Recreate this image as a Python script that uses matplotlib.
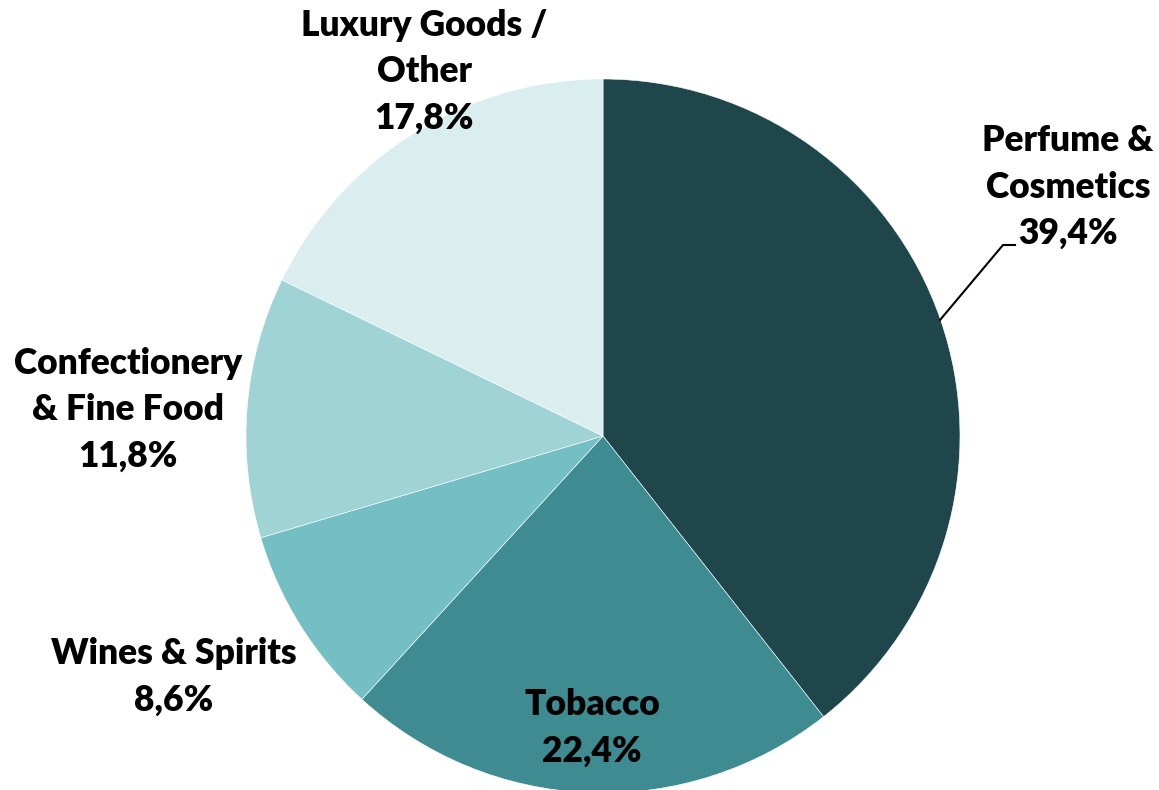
import matplotlib
matplotlib.use("Agg")
import matplotlib.pyplot as plt

# sales split by category
categories = ["Perfume &\nCosmetics", "Tobacco", "Wines & Spirits",
              "Confectionery\n& Fine Food", "Luxury Goods /\nOther"]
shares = [39.4, 22.4, 8.6, 11.8, 17.8]
colors = ["#1F474B", "#3E8B91", "#73BFC3", "#A0D3D6", "#DAEDEF"]

# label anchor (centre of text block) in pixel coords, y measured from top
label_pos = [(1068, 187), (592, 728), (174, 677), (128, 410), (424, 72)]

W, H = 1159, 790
fig = plt.figure(figsize=(W / 100, H / 100), dpi=100)
ax = fig.add_axes([0, 0, 1, 1])

cx, cy, r = 603, H - 436, 357
ax.pie(shares, colors=colors, startangle=90, counterclock=False,
       center=(cx, cy), radius=r, frame=True,
       wedgeprops=dict(edgecolor="white", linewidth=0.4))
ax.set_xlim(0, W)
ax.set_ylim(0, H)
ax.axis("off")

for name, val, (px, py) in zip(categories, shares, label_pos):
    txt = f"{name}\n{val:.1f}%".replace(".", ",")
    ax.text(px, H - py, txt, ha="center", va="center", fontsize=25.5,
            fontweight="heavy", family="Lato", linespacing=1.5, color="black")

# leader line for the first slice
ax.plot([940, 1003, 1015], [H - 320, H - 245, H - 245], color="black", lw=1.5)

fig.savefig("out.png", dpi=100)
